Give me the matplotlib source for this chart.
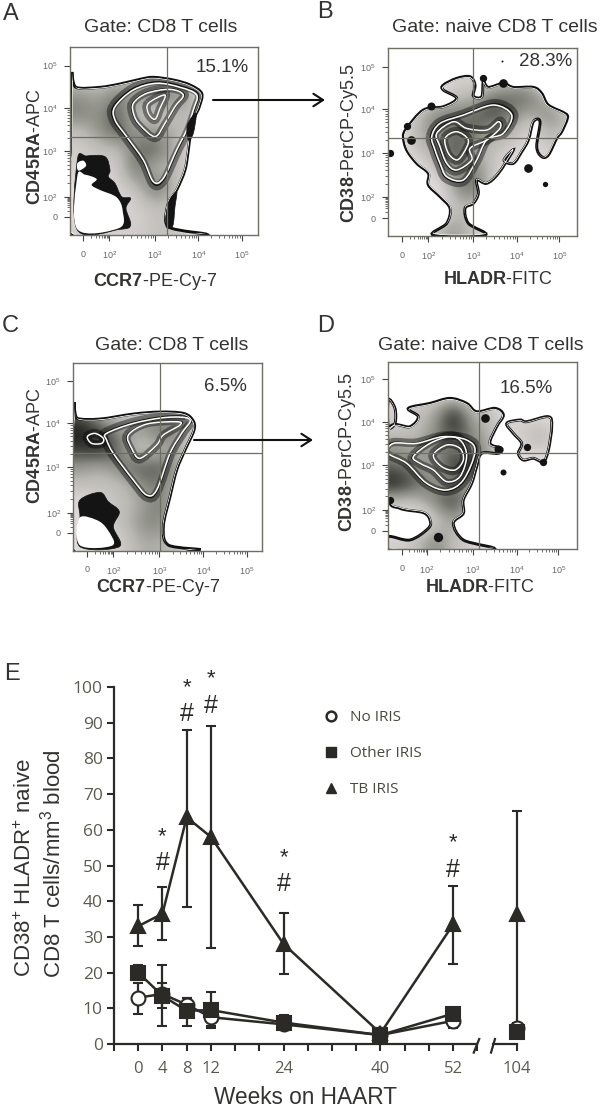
"""Four flow density panels and the HAART time course, saved as out.png."""
import numpy as np
import matplotlib
matplotlib.use("Agg")
import matplotlib.pyplot as plt
from matplotlib.colors import LinearSegmentedColormap
from matplotlib.lines import Line2D
from matplotlib.patches import PathPatch
from matplotlib.path import Path

plt.rcParams["font.family"] = ["Liberation Sans", "DejaVu Sans"]
plt.rcParams["mathtext.fontset"] = "custom"
plt.rcParams["mathtext.rm"] = "Liberation Sans"
plt.rcParams["mathtext.bf"] = "Liberation Sans:bold"
plt.rcParams["mathtext.default"] = "regular"

W, H = 600, 1109
TEXT = "#333331"
INK = "#2b2a26"
TICK_GREY = "#5c5a50"
DECADES = ["0", "$10^{2}$", "$10^{3}$", "$10^{4}$", "$10^{5}$"]
Y_DECADES = ["$10^{5}$", "$10^{4}$", "$10^{3}$", "$10^{2}$", "0"]

# flow panels: shapes are in each plot's own channel units
A_OUTLINE = [(215, 225), (228, 262), (300, 262), (360, 252), (420, 238), (460, 232), (520, 240), (570, 255),
             (605, 280), (598, 320), (585, 350), (572, 400), (565, 450), (555, 510), (530, 570), (505, 610),
             (505, 680), (610, 705), (215, 705), (213, 450)]
A_RINGS = [[(345, 320), (400, 270), (470, 250), (540, 262), (590, 285), (580, 330), (560, 390), (530, 450),
            (490, 535), (460, 545), (430, 480), (380, 410), (345, 360)],
           [(400, 310), (440, 280), (510, 268), (550, 285), (525, 320), (495, 370), (465, 410), (420, 375),
            (402, 345)],
           [(445, 310), (495, 285), (480, 325), (465, 358), (445, 340)]]
A_BLACK = [[(232, 480), (260, 468), (315, 470), (330, 510), (325, 530), (345, 550), (365, 590), (392, 595),
            (378, 625), (392, 675), (360, 688), (232, 690)],
           [(588, 340), (580, 400), (565, 420), (562, 375)],
           [(530, 575), (525, 620), (518, 678), (498, 678), (505, 610)]]
A_HOLES = [[(232, 528), (255, 524), (290, 537), (275, 555), (300, 570), (350, 592), (368, 632), (358, 684),
            (232, 688)],
           [(232, 490), (250, 482), (258, 498), (235, 512)]]
A_SPOTS = []
A_SHADE = [[0, 0, 0, 0, 0, 0, 0, 0, 0, 0],
           [2, 2, 2, 3, 3, 3, 2, 0, 0, 0],
           [5, 4, 6, 5, 6, 6, 4, 0, 0, 0],
           [6, 5, 7, 3, 2, 3, 4, 0, 0, 0],
           [3, 5, 7, 5, 5, 4, 3, 0, 0, 0],
           [2, 3, 3, 6, 7, 4, 1, 0, 0, 0],
           [2, 2, 2, 7, 3, 4, 1, 0, 0, 0],
           [0, 1, 2, 3, 7, 4, 0, 0, 0, 0],
           [0, 0, 1, 2, 3, 3, 0, 0, 0, 0],
           [2, 2, 2, 2, 3, 3, 1, 0, 0, 0]]

B_OUTLINE = [(430, 255), (470, 235), (510, 230), (525, 255), (520, 288), (545, 290), (550, 245), (565, 262),
             (610, 250), (640, 262), (700, 262), (725, 280), (745, 315), (795, 340), (802, 355), (785, 395),
             (770, 415), (745, 465), (725, 470), (710, 440), (720, 365), (700, 365), (685, 420), (665, 455),
             (640, 490), (612, 480), (640, 450), (595, 520), (560, 550), (530, 540), (535, 580), (520, 610),
             (495, 625), (505, 670), (555, 705), (400, 705), (440, 670), (450, 625), (420, 590), (385, 555),
             (385, 520), (350, 490), (320, 450), (310, 410), (320, 385), (370, 330), (430, 320), (470, 295),
             (430, 270)]
B_RINGS = [[(395, 410), (420, 370), (490, 345), (580, 315), (635, 345), (610, 400), (560, 420), (530, 480),
            (490, 540), (440, 530), (420, 490), (405, 450)],
           [(410, 400), (460, 365), (500, 385), (560, 390), (595, 365), (600, 385), (560, 420), (510, 445),
            (515, 480), (470, 510), (440, 490), (420, 440)],
           [(435, 415), (470, 395), (505, 420), (490, 460), (470, 480), (445, 460)]]
B_BLACK = []
B_HOLES = []
B_SPOTS = [(333, 420, 13), (270, 460, 11), (685, 503, 13), (735, 552, 8), (605, 182, 3), (610, 250, 13),
           (550, 235, 11), (392, 318, 12), (322, 378, 11)]
B_SHADE = [[0, 0, 0, 0, 0, 0, 0, 0, 0, 0],
           [0, 0, 0, 2, 2, 0, 3, 0, 0, 0],
           [0, 0, 0, 3, 3, 6, 6, 7, 2, 0],
           [0, 3, 6, 6, 6, 8, 6, 4, 6, 3],
           [0, 4, 5, 6, 7, 4, 4, 1, 4, 3],
           [0, 3, 4, 8, 4, 3, 2, 1, 3, 0],
           [0, 0, 3, 5, 6, 3, 0, 0, 0, 0],
           [0, 0, 0, 5, 7, 3, 0, 0, 0, 0],
           [0, 0, 0, 3, 3, 0, 0, 0, 0, 0],
           [0, 0, 3, 5, 3, 0, 3, 0, 0, 0]]

C_OUTLINE = [(222, 270), (232, 295), (300, 297), (400, 282), (480, 276), (550, 280), (578, 300), (582, 330),
             (555, 390), (530, 450), (510, 530), (490, 620), (505, 675), (590, 690), (222, 692)]
C_RINGS = [[(320, 340), (400, 310), (500, 292), (570, 298), (545, 340), (510, 400), (470, 510), (440, 525),
            (400, 480), (340, 400), (320, 360)],
           [(385, 345), (440, 312), (530, 305), (540, 315), (490, 345), (470, 375), (420, 415), (395, 385)],
           [(262, 350), (285, 340), (310, 355), (305, 370), (275, 370)]]
C_BLACK = [[(240, 540), (300, 517), (325, 545), (358, 575), (340, 620), (358, 680), (240, 680), (240, 590)]]
C_HOLES = [[(238, 594), (290, 600), (322, 628), (338, 676), (240, 676)]]
C_SPOTS = []
C_SHADE = [[0, 0, 0, 0, 0, 0, 0, 0, 0, 0],
           [0, 0, 0, 0, 0, 0, 0, 0, 0, 0],
           [6, 3, 2, 2, 3, 3, 0, 0, 0, 0],
           [9, 7, 5, 5, 7, 6, 3, 0, 0, 0],
           [8, 9, 6, 2, 3, 5, 0, 0, 0, 0],
           [5, 4, 6, 7, 7, 5, 1, 0, 0, 0],
           [3, 3, 3, 5, 6, 4, 0, 0, 0, 0],
           [1, 2, 3, 4, 6, 4, 0, 0, 0, 0],
           [1, 2, 3, 5, 6, 3, 0, 0, 0, 0],
           [1, 1, 2, 4, 4, 3, 0, 0, 0, 0]]

D_OUTLINE = [(265, 330), (330, 320), (355, 290), (325, 265), (390, 250), (450, 235), (500, 250), (530, 275),
             (585, 265), (610, 285), (590, 320), (570, 370), (605, 385), (595, 400), (545, 400), (530, 440),
             (515, 490), (490, 540), (490, 580), (460, 610), (490, 660), (575, 688), (265, 688), (265, 650),
             (330, 660), (385, 625), (390, 600), (370, 578), (300, 565), (265, 530)]
D_LOBES = [[(620, 310), (660, 300), (680, 305), (745, 290), (755, 320), (745, 390), (730, 425), (700, 415),
            (670, 420), (655, 400), (665, 370), (640, 340)],
           [(265, 240), (285, 265), (285, 310), (265, 320)]]
D_RINGS = [[(280, 370), (350, 370), (430, 350), (500, 360), (525, 395), (490, 480), (440, 510), (380, 490),
            (320, 430), (265, 400)],
           [(340, 410), (390, 370), (450, 350), (485, 365), (500, 410), (480, 470), (440, 485), (400, 450),
            (360, 430)],
           [(400, 405), (440, 375), (480, 385), (490, 420), (465, 450), (425, 440)]]
D_BLACK = []
D_HOLES = []
D_SPOTS = [(610, 455, 9), (415, 650, 14), (680, 380, 11), (730, 425, 11), (555, 295, 13), (595, 388, 12),
           (270, 540, 11)]
D_SHADE = [[0, 0, 0, 0, 0, 0, 0, 0, 0, 0],
           [0, 0, 0, 0, 0, 0, 0, 0, 0, 0],
           [2, 3, 4, 8, 3, 3, 0, 0, 0, 0],
           [2, 3, 5, 9, 5, 3, 2, 3, 3, 0],
           [5, 4, 6, 5, 6, 4, 0, 3, 3, 0],
           [6, 5, 4, 9, 7, 4, 0, 0, 0, 0],
           [9, 7, 5, 5, 5, 2, 0, 0, 0, 0],
           [3, 3, 6, 8, 4, 0, 0, 0, 0, 0],
           [0, 0, 2, 5, 2, 0, 0, 0, 0, 0],
           [2, 3, 6, 3, 2, 0, 0, 0, 0, 0]]

# time course
WEEKS = [0, 4, 8, 12, 24, 40, 52, 104]
WEEK_LABELS = ["0", "4", "8", "12", "24", "40", "52", "104"]
MINOR_WEEKS = [-4, 16, 20, 28, 32, 36, 44, 48, 56]
NO_IRIS = [13, 14, 11, 7.5, 5.5, 2.5, 6.5, 4.5]
NO_IRIS_LO = [8.5, 5, 8, 4.5, 4, 1.5, 4.5, 3]
NO_IRIS_HI = [17, 22, 13, 11, 7.5, 3.5, 8.5, 6]
OTHER_IRIS = [20, 13.5, 9.3, 9.5, 6, 2.5, 8.5, 3.5]
OTHER_IRIS_LO = [18, 10, 5, 5, 4.5, 1.5, 7, 2.5]
OTHER_IRIS_HI = [22, 17, 13, 14.5, 8, 3.5, 10, 5.5]
TB_IRIS = [33, 36.5, 63.5, 58, 28, 3, 33.5, 36.5]
TB_IRIS_LO = [27.5, 29, 38.5, 27, 19.5, 1.5, 22.3, 5.5]
TB_IRIS_HI = [39, 44, 88, 89, 36.7, 4.5, 44.3, 65.3]
STAR_WEEKS = [4, 8, 12, 24, 52]
STAR_Y = [59.7, 101.4, 103.9, 53.8, 58]
HASH_Y = [50.7, 92.4, 94.8, 44.7, 48.7]
YTICKS = list(range(0, 101, 10))

SHADE_CMAP = LinearSegmentedColormap.from_list(
    "flow", ["#e8e4e4", "#d6d2d1", "#b9b8b3", "#8a8b83", "#4c4d47", "#161615"])


def smooth(pts, k=1.0):
    p = np.array(pts, float)
    mid = p.mean(axis=0)
    p = mid + (p - mid) * k
    n = len(p)
    verts = [p[0]]
    codes = [Path.MOVETO]
    for i in range(n):
        p0, p1, p2, p3 = p[(i - 1) % n], p[i], p[(i + 1) % n], p[(i + 2) % n]
        verts += [p1 + (p2 - p0) / 6, p2 - (p3 - p1) / 6, p2]
        codes += [Path.CURVE4] * 3
    return Path(verts, codes)


def place(rect):
    x0, y0, x1, y1 = rect
    return [x0 / W, 1 - y1 / H, (x1 - x0) / W, (y1 - y0) / H]


def label(x, y, s, size=14, **kw):
    kw.setdefault("color", TEXT)
    fig.text(x / W, 1 - y / H, s, fontsize=size, ha="center", va="center", **kw)


def minor_ticks(major):
    out = []
    for a, b in zip(major[:-1], major[1:]):
        out += list(a + (b - a) * np.log10(np.arange(2, 10)))
    return out


def flow_panel(rect, box, gate, xticks, yticks, outlines, rings, black, holes, spots, shade):
    ax = fig.add_axes(place(rect))
    ax.set_xlim(box[0], box[1])
    ax.set_ylim(box[3], box[2])
    im = ax.imshow(shade, extent=(box[0], box[1], box[3], box[2]), cmap=SHADE_CMAP, vmin=0, vmax=9,
                   interpolation="bicubic", aspect="auto", zorder=1)
    paths = [smooth(o) for o in outlines]
    clip = PathPatch(Path.make_compound_path(*paths), transform=ax.transData, fc="none", ec="none")
    ax.add_patch(clip)
    im.set_clip_path(clip)
    for ring in rings:
        halo = PathPatch(smooth(ring, 1.05), fc="none", ec="black", lw=6, alpha=0.4, zorder=2)
        ax.add_patch(halo)
        halo.set_clip_path(clip)
        ax.add_patch(PathPatch(smooth(ring, 1.035), fc="none", ec="#111111", lw=1.0, zorder=3))
        ax.add_patch(PathPatch(smooth(ring), fc="none", ec="white", lw=1.1, zorder=3.1))
    for o in outlines:
        ax.add_patch(PathPatch(smooth(o), fc="none", ec="#111111", lw=2.1, zorder=4))
        inner = PathPatch(smooth(o, 0.985), fc="none", ec="white", lw=0.6, zorder=4.1)
        ax.add_patch(inner)
        inner.set_clip_path(clip)
    for poly in black:
        ax.add_patch(PathPatch(smooth(poly), fc="#141414", ec="#141414", lw=0.5, zorder=5))
    for poly in holes:
        ax.add_patch(PathPatch(smooth(poly), fc="white", ec="none", zorder=5.1))
    for x, y, r in spots:
        ax.plot(x, y, "o", ms=r * 0.48, color="#141414", mec="none", zorder=5.2)
    ax.axvline(gate[0], color="#6e6e62", lw=0.9, zorder=6)
    ax.axhline(gate[1], color="#6e6e62", lw=0.9, zorder=6)
    for s in ax.spines.values():
        s.set_color("#6e6e62")
        s.set_linewidth(1.0)
        s.set_zorder(7)
    ax.set_xticks(xticks, DECADES)
    ax.set_yticks(yticks, Y_DECADES)
    ax.set_xticks(minor_ticks(xticks), minor=True)
    ax.set_yticks(minor_ticks(yticks[::-1])[:24], minor=True)
    ax.tick_params(which="major", length=4, width=0.8, color="#444444", labelsize=6.5, labelcolor="#666666")
    ax.tick_params(axis="x", which="major", pad=6.5)
    ax.tick_params(axis="y", which="major", pad=5)
    ax.tick_params(which="minor", length=2, width=0.6, color="#555555")
    return ax


fig = plt.figure(figsize=(W / 100, H / 100), dpi=100)

flow_panel((70, 47.3, 258.3, 235), (210, 775, 142, 705), (500, 411), [250, 328, 465, 595, 725],
           [197, 325, 453, 590, 650], [A_OUTLINE], A_RINGS, A_BLACK, A_HOLES, A_SPOTS, A_SHADE)
flow_panel((387.7, 47.7, 576.7, 236), (263, 830, 143, 708), (520, 415), [305, 385, 520, 650, 778],
           [200, 328, 458, 592, 655], [B_OUTLINE], B_RINGS, B_BLACK, B_HOLES, B_SPOTS, B_SHADE)
flow_panel((73.3, 362.7, 261.7, 550.7), (220, 785, 128, 692), (481, 400), [262, 340, 478, 610, 740],
           [183, 310, 440, 578, 638], [C_OUTLINE], C_RINGS, C_BLACK, C_HOLES, C_SPOTS, C_SHADE)
flow_panel((388.3, 361.7, 576.7, 549.3), (265, 830, 125, 688), (538, 400), [305, 380, 518, 650, 775],
           [178, 305, 435, 570, 633], [D_OUTLINE] + D_LOBES, D_RINGS, D_BLACK, D_HOLES, D_SPOTS, D_SHADE)

for x, y, s in [(11, 14, "A"), (325, 12, "B"), (10, 326, "C"), (326, 326, "D"), (12, 674, "E")]:
    label(x, y, s, size=17)
for x, y, s in [(161, 27, "Gate: CD8 T cells"), (494.5, 27, "Gate: naive CD8 T cells"),
                (171.5, 346, "Gate: CD8 T cells"), (481, 346, "Gate: naive CD8 T cells")]:
    label(x, y, s, size=14)
for x, y, s in [(222, 67, "15.1%"), (546, 62, "28.3%"), (225, 387, "6.5%"), (526, 389, "16.5%")]:
    label(x, y, s, size=13.5)
for x, y, s in [(155, 281, r"$\mathbf{CCR7}$-PE-Cy-7"), (498, 280, r"$\mathbf{HLADR}$-FITC"),
                (158, 587, r"$\mathbf{CCR7}$-PE-Cy-7"), (480, 587, r"$\mathbf{HLADR}$-FITC")]:
    label(x, y, s, size=13)
for x, y, s in [(35, 147, r"$\mathbf{CD45RA}$-APC"), (349, 143, r"$\mathbf{CD38}$-PerCP-Cy5.5"),
                (35, 446, r"$\mathbf{CD45RA}$-APC"), (348, 452, r"$\mathbf{CD38}$-PerCP-Cy5.5")]:
    label(x, y, s, size=13, rotation=90)

for x0, x1, y in [(213, 325, 100), (194, 313, 440)]:
    fig.add_artist(matplotlib.patches.FancyArrowPatch(
        (x0 / W, 1 - y / H), (x1 / W, 1 - y / H), transform=fig.transFigure,
        arrowstyle="->,head_length=7,head_width=4.5", lw=1.5, color="#111111", shrinkA=0, shrinkB=0))

# time course panel, the weeks past the axis break are pulled back to sit close to week 52
PX_PER_WEEK = 6.06
BREAK_SHIFT = 41.44


def week_pos(weeks):
    return [w if w <= 56 else w - BREAK_SHIFT for w in weeks]


ax = fig.add_axes(place((114, 687, 560, 1044)))
ax.set_xlim((114 - 138) / PX_PER_WEEK, (560 - 138) / PX_PER_WEEK)
ax.set_ylim(0, 100)
ax.patch.set_alpha(0)
for s in ["top", "right"]:
    ax.spines[s].set_visible(False)
for s in ["left", "bottom"]:
    ax.spines[s].set_color(INK)
    ax.spines[s].set_linewidth(1.6)
ax.spines["bottom"].set_bounds(-4, 56)
xs = week_pos(WEEKS)
ax.plot([58.5, xs[-1]], [0, 0], color=INK, lw=1.6, clip_on=False)
for x0, x1 in [(56.3, 55.4), (58.9, 58.25)]:
    ax.plot([x0, x1], [1.4, -2.4], color=INK, lw=1.6, clip_on=False)

series = [(NO_IRIS, NO_IRIS_LO, NO_IRIS_HI, "o", 10, "white", "No IRIS"),
          (TB_IRIS, TB_IRIS_LO, TB_IRIS_HI, "^", 10, INK, "TB IRIS"),
          (OTHER_IRIS, OTHER_IRIS_LO, OTHER_IRIS_HI, "s", 9.5, INK, "Other IRIS")]
for vals, lo, hi, marker, ms, face, name in series:
    yerr = [np.array(vals) - lo, np.array(hi) - vals]
    ax.errorbar(xs, vals, yerr=yerr, fmt="none", ecolor=INK, elinewidth=1.6, capsize=3.3, capthick=1.5,
                clip_on=False, zorder=3)
    ax.plot(xs[:7], vals[:7], color=INK, lw=1.8, zorder=4, clip_on=False)
    ax.plot(xs, vals, marker, ms=ms, mfc=face, mec=INK, mew=1.5, ls="none", zorder=5, clip_on=False)

for week, sy, hy in zip(STAR_WEEKS, STAR_Y, HASH_Y):
    ax.annotate("*", (week, sy), xytext=(0, -4), textcoords="offset points", fontsize=16, ha="center",
                va="center", color=INK, annotation_clip=False)
    ax.text(week, hy, "#", fontsize=18, ha="center", va="center", color=INK, clip_on=False)

ax.set_yticks(YTICKS)
ax.set_xticks(xs, WEEK_LABELS)
ax.set_xticks(MINOR_WEEKS, minor=True)
ax.tick_params(axis="y", length=5, width=1.5, color=INK, labelsize=12.5, labelcolor=TICK_GREY, pad=3)
ax.tick_params(axis="x", which="both", length=5, width=1.5, color=INK)
ax.tick_params(axis="x", which="major", labelsize=12, labelcolor=TICK_GREY, pad=7)
for t in ax.get_xticklabels() + ax.get_yticklabels():
    t.set_fontfamily(["Open Sans", "DejaVu Sans"])

handles = [Line2D([], [], ls="none", marker="o", ms=7, mfc="white", mec=INK, mew=1.8),
           Line2D([], [], ls="none", marker="s", ms=7.5, mfc=INK, mec=INK),
           Line2D([], [], ls="none", marker="^", ms=7.5, mfc=INK, mec=INK)]
leg = fig.legend(handles, ["No IRIS", "Other IRIS", "TB IRIS"], loc="upper left",
                 bbox_to_anchor=(320 / W, 1 - 710 / H), frameon=False, labelspacing=1.38,
                 handletextpad=0.55, handlelength=1.4, borderpad=0, borderaxespad=0,
                 prop={"family": ["Open Sans", "DejaVu Sans"], "size": 11})
for t in leg.get_texts():
    t.set_color("#4a493f")

label(25, 868, "CD38$^{+}$ HLADR$^{+}$ naive", size=16, rotation=90)
label(53, 864, "CD8 T cells/mm$^{3}$ blood", size=16, rotation=90)
label(305, 1098, "Weeks on HAART", size=16.3)

fig.savefig("out.png", dpi=100)
